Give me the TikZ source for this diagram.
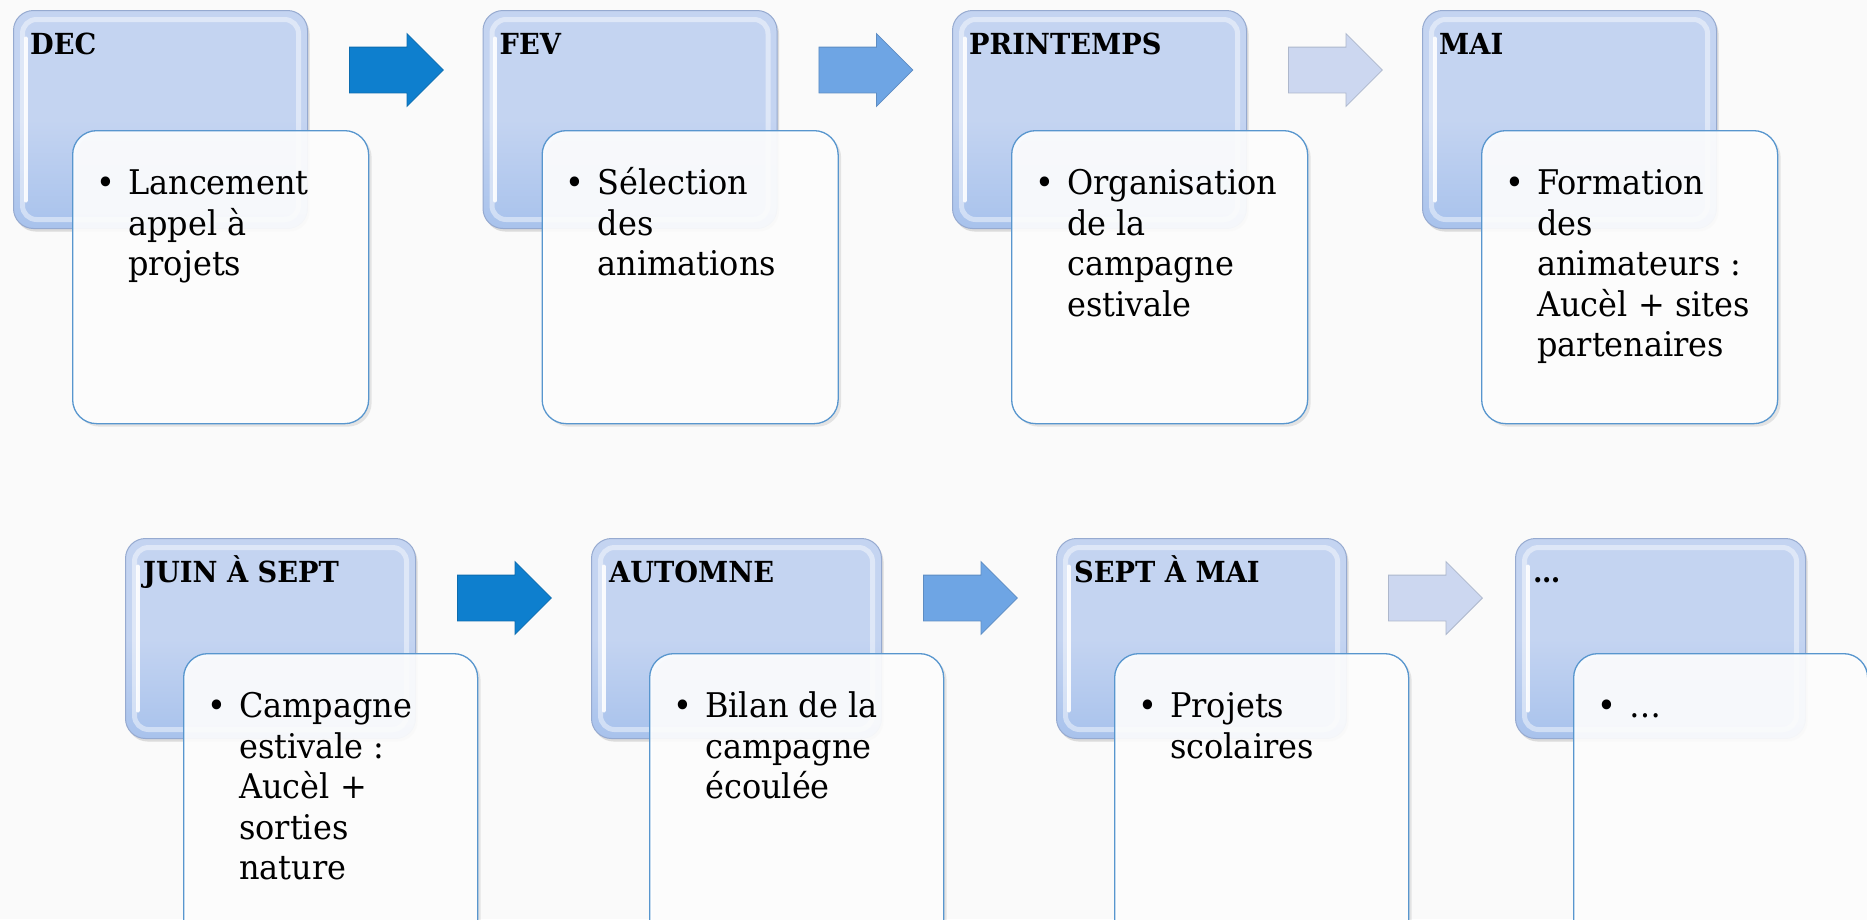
\documentclass[tikz,border=0pt]{standalone}
\usepackage{fontspec}
\setmainfont[FakeStretch=0.94]{DejaVu Serif}
\usetikzlibrary{shapes.arrows, shadows, positioning}

\definecolor{paper}{RGB}{250,250,250}
\definecolor{boxblue}{RGB}{196,212,241}
\definecolor{boxedge}{RGB}{150,170,208}
\definecolor{boxglow}{RGB}{168,194,236}
\definecolor{cardedge}{RGB}{88,150,206}
\definecolor{arrowone}{RGB}{14,127,206}
\definecolor{arrowtwo}{RGB}{110,165,228}
\definecolor{arrowthree}{RGB}{204,215,240}

\begin{document}
\begin{tikzpicture}[x=1pt, y=-1pt]
    \tikzstyle{title}=[anchor=north west, inner sep=0pt, rounded corners=20pt,
        draw=boxedge, top color=boxblue, bottom color=boxglow, middle color=boxblue,
        line width=1pt,
        drop shadow={opacity=0.25, shadow xshift=2pt, shadow yshift=-3pt},
        path picture={
            \draw[white, opacity=0.45, line width=5pt, rounded corners=14pt]
                ([shift={(9pt,-9pt)}]path picture bounding box.north west) rectangle
                ([shift={(-9pt,9pt)}]path picture bounding box.south east);
            \draw[white, opacity=0.9, line width=4pt, line cap=round]
                ([shift={(12pt,-28pt)}]path picture bounding box.north west) --
                ([shift={(12pt,28pt)}]path picture bounding box.south west);
        }]
    \tikzstyle{card}=[anchor=north west, inner sep=0pt, rounded corners=24pt,
        draw=cardedge, line width=1.3pt, fill=white, fill opacity=0.9,
        drop shadow={opacity=0.18, shadow xshift=3pt, shadow yshift=-3pt}]
    \tikzstyle{month}=[anchor=base west, inner sep=0pt, font=\fontsize{29}{34}\selectfont\bfseries]
    \tikzstyle{bullets}=[inner sep=0pt, align=left, font=\fontsize{34}{40.5}\selectfont]
    \tikzstyle{flow}=[single arrow, single arrow head extend=13.5pt, inner xsep=0pt,
        inner ysep=22.5pt, minimum height=94pt, line width=0.8pt]

    \useasboundingbox (0,0) rectangle (1867,919);
    \fill[paper] (0,0) rectangle (1867,919);

    % Top row: month boxes with their cards
    \foreach \name / \x / \month / \what in {
            1/13/DEC/{Lancement\\appel à\\projets},
            2/482.5/FEV/{Sélection\\des\\animations},
            3/952/PRINTEMPS/{Organisation\\de la\\campagne\\estivale},
            4/1422/MAI/{Formation\\des\\animateurs :\\Aucèl + sites\\partenaires}}
    {
        \node[title, minimum width=294pt, minimum height=218pt] (T-\name) at (\x,10) {};
        \node[month] (M-\name) at ([shift={(17pt,-44pt)}]T-\name.north west) {\month};
        \node[card, minimum width=296pt, minimum height=293pt,
            below right=120pt and 59pt of T-\name.north west] (C-\name) {};
        \node[bullets, below right=36pt and 56pt of C-\name.north west] (W-\name)
            {\strut\llap{\textbullet\hspace{13pt}}\what};
    }

    % Bottom row: month boxes with their cards
    \foreach \name / \x / \month / \what in {
            5/125/JUIN À SEPT/{Campagne\\estivale :\\Aucèl +\\sorties\\nature},
            6/591/AUTOMNE/{Bilan de la\\campagne\\écoulée},
            7/1056/SEPT À MAI/{Projets\\scolaires},
            8/1515/…/{…}}
    {
        \node[title, minimum width=290pt, minimum height=200pt] (T-\name) at (\x,538) {};
        \node[month] (M-\name) at ([shift={(18pt,-44pt)}]T-\name.north west) {\month};
        \node[card, minimum width=294pt, minimum height=293pt,
            below right=115pt and 58pt of T-\name.north west] (C-\name) {};
        \node[bullets, below right=36pt and 56pt of C-\name.north west] (W-\name)
            {\strut\llap{\textbullet\hspace{13pt}}\what};
    }

    % Block arrows between the months
    \foreach \a / \tint in {1/arrowone, 2/arrowtwo, 3/arrowthree, 5/arrowone, 6/arrowtwo, 7/arrowthree}
        \node[flow, fill=\tint, draw=\tint!85!black, right=41pt of T-\a.north east, yshift=-60pt] (A-\a) {};
\end{tikzpicture}
\end{document}
